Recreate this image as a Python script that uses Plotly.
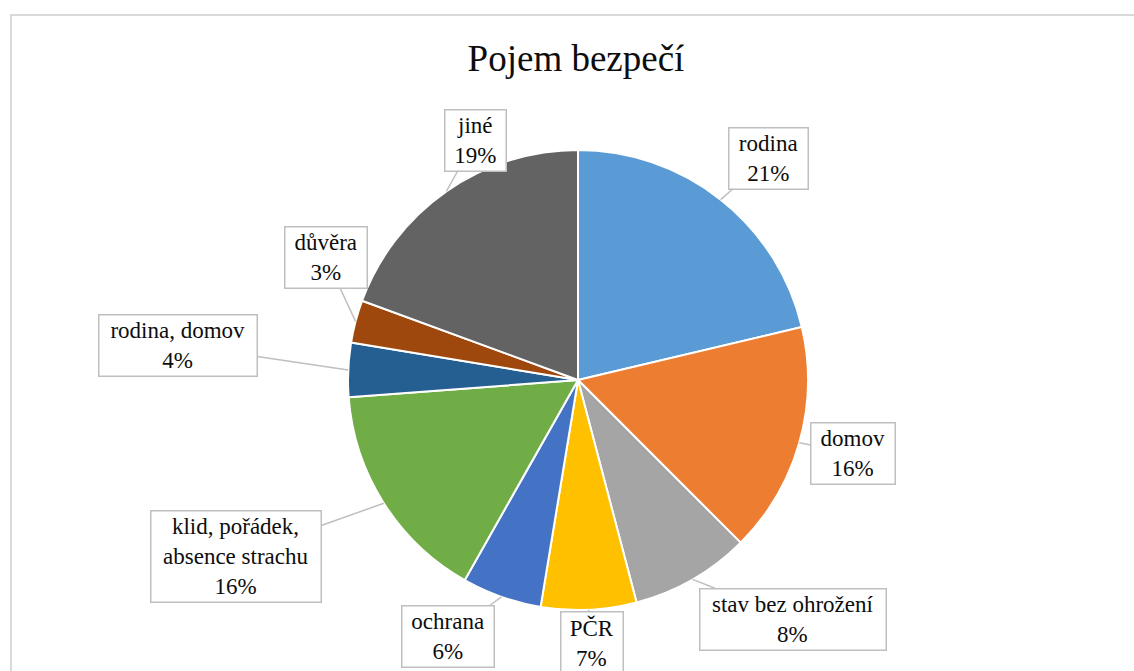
import math
import plotly.graph_objects as go

W, H = 1134, 671

TITLE = "Pojem bezpečí"
CATEGORIES = [
    "rodina", "domov", "stav bez ohrožení", "PČR", "ochrana",
    "klid, pořádek,<br>absence strachu", "rodina, domov", "důvěra", "jiné",
]
SHARES = [21.3, 16.2, 8.4, 6.7, 5.6, 15.6, 3.8, 3.0, 19.4]
COLORS = [
    "#5B9BD5", "#ED7D31", "#A5A5A5", "#FFC000", "#4472C4",
    "#70AD47", "#255E91", "#9E480E", "#636363",
]

# callout box centres and outer widths (pixels)
BOX_CENTERS = [
    (768, 158), (853, 453), (793, 619), (592, 643), (448, 636),
    (236, 556), (178, 345), (326, 258), (475, 140),
]
BOX_WIDTHS = [79, 84, 186, 62, 92, 170, 158, 82, 61]

# pie geometry in pixels
CX, CY, R = 578, 380, 230

FONT = "Liberation Serif"
PAD, BW = 2.5, 1.5

fig = go.Figure()
fig.add_trace(go.Pie(
    labels=CATEGORIES,
    values=SHARES,
    sort=False,
    direction="clockwise",
    rotation=0,
    marker=dict(colors=COLORS, line=dict(color="white", width=2)),
    textinfo="none",
    hoverinfo="skip",
    showlegend=False,
    domain=dict(
        x=[(CX - R) / W, (CX + R) / W],
        y=[1 - (CY + R) / H, 1 - (CY - R) / H],
    ),
))

total = sum(SHARES)
cum = 0.0
for label, v, (bx, by), bw in zip(CATEGORIES, SHARES, BOX_CENTERS, BOX_WIDTHS):
    mid = (cum + v / 2) / total * 2 * math.pi
    cum += v
    tx = CX + R * math.sin(mid)
    ty = CY - R * math.cos(mid)
    fig.add_annotation(
        x=tx / W, y=1 - ty / H, xref="paper", yref="paper",
        ax=bx - tx, ay=by - ty,
        text=f"{label}<br>{v / total:.0%}",
        showarrow=True, arrowhead=0, arrowwidth=1.5, arrowcolor="#BFBFBF",
        standoff=0,
        font=dict(family=FONT, size=23, color="#0d0d0d"),
        bgcolor="white", bordercolor="#BFBFBF", borderwidth=BW, borderpad=PAD,
        width=bw - 2 * PAD - BW,
        align="center",
    )

fig.add_shape(
    type="rect", xref="paper", yref="paper",
    x0=11 / W, x1=1.05, y0=-0.05, y1=1 - 15 / H,
    line=dict(color="#D9D9D9", width=2), layer="below",
)

fig.update_layout(
    width=W, height=H,
    margin=dict(l=0, r=0, t=0, b=0),
    paper_bgcolor="white",
    plot_bgcolor="white",
    title=dict(
        text=TITLE, x=576 / W, xanchor="center", y=1 - 58 / H, yanchor="middle",
        font=dict(family=FONT, size=37, color="#0d0d0d"),
    ),
)

fig.write_html(
    "out.html",
    config={"displayModeBar": False},
    post_script="document.body.style.margin='0';document.body.style.overflow='hidden';",
)
